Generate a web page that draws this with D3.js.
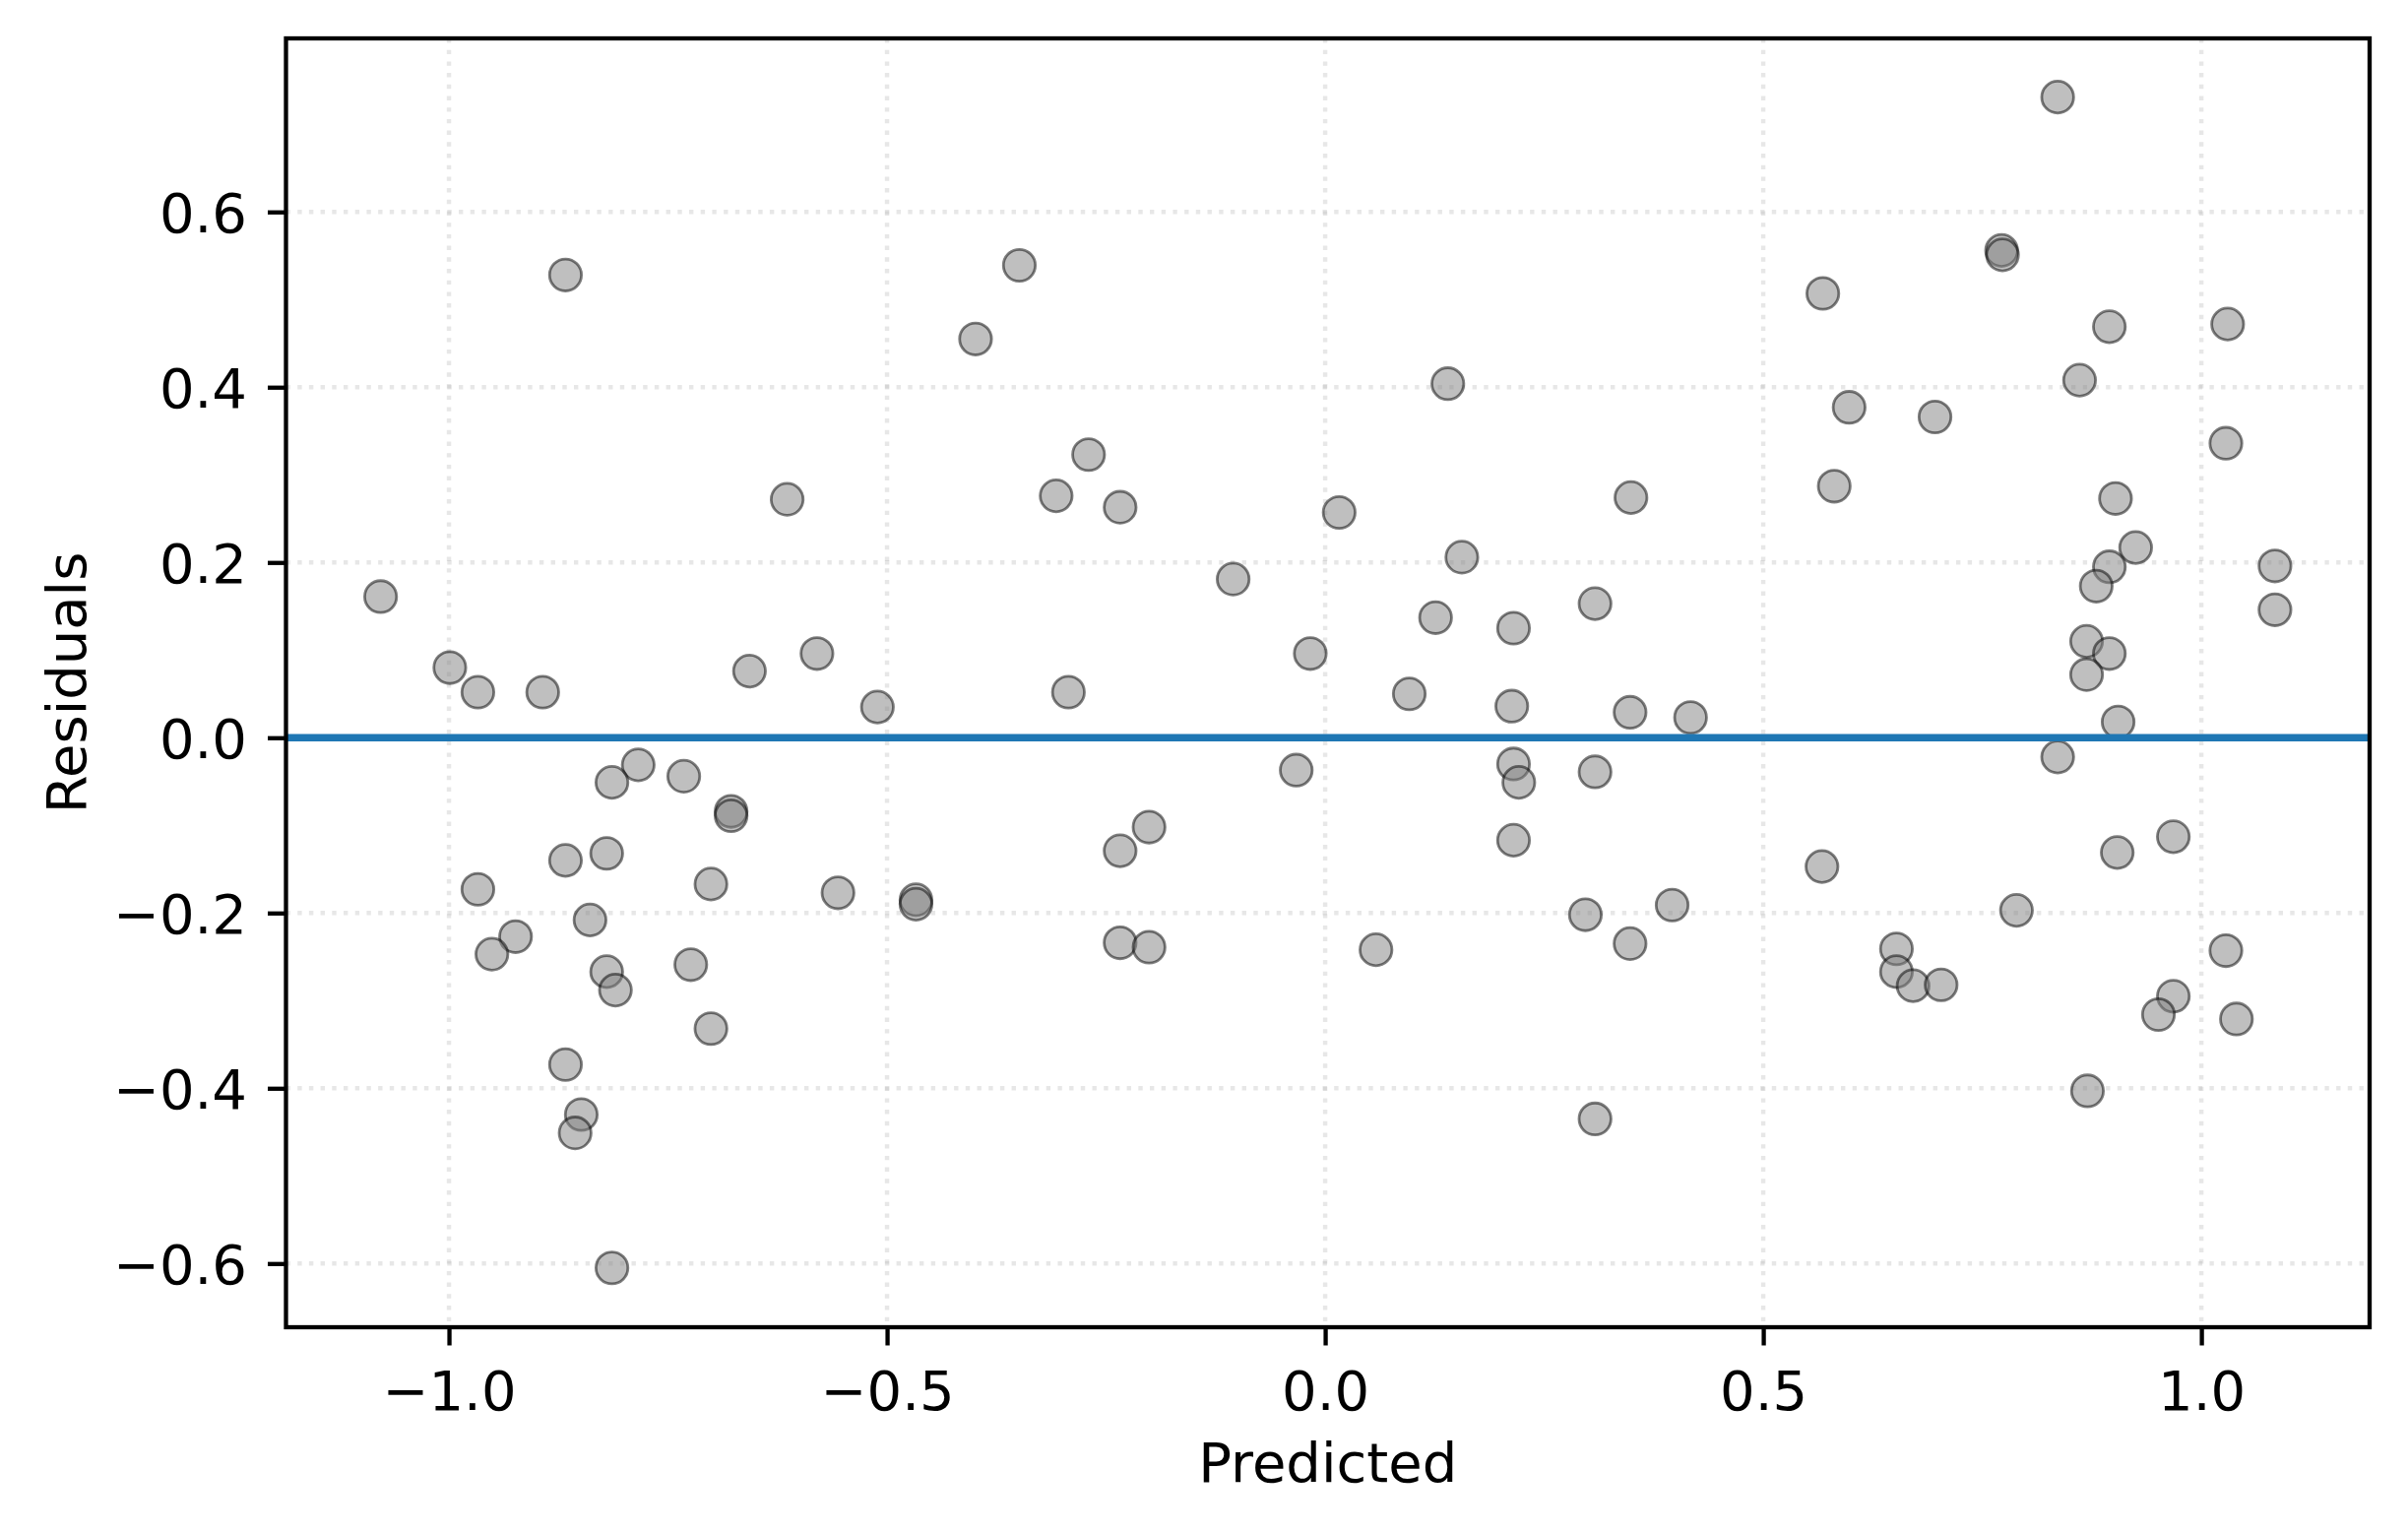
<!DOCTYPE html>
<html>
<head>
<meta charset="utf-8">
<script src="https://cdn.jsdelivr.net/npm/d3@7"></script>
<style>
  html, body { margin: 0; padding: 0; background: #fff; }
  svg { display: block; font-family: "DejaVu Sans", sans-serif; }
</style>
</head>
<body>
<svg id="chart" width="2446" height="1557"></svg>
<script>
// values
const predicted = [
  -1.078, -0.999, -0.967, -0.893, -0.867, -0.657, -0.614, -0.580, -0.349, -0.399,
  -0.270, -0.307, -0.234, 0.016, -0.105, -0.017, -0.293, 0.568, 0.140, 0.598,
  0.581, 0.349, 0.156, 0.126, 0.215, 0.308, 0.096, 0.836, 0.772, 0.773,
  0.895, 1.030, 0.861, 0.696, 1.028, 0.902, 0.925, 0.895, 0.880, 1.084,
  1.084, 0.869, 0.895, 0.869, -0.784, -0.814, -0.732, -0.678, -0.678, -0.867,
  -0.820, -0.967, -0.701, -0.839, -0.924, -0.951, -0.820, -0.810, -0.724, -0.701,
  -0.867, -0.849, -0.856, -0.814, -0.511, -0.033, -0.201, -0.234, -0.556, -0.467,
  -0.467, -0.234, -0.201, 0.213, 0.348, 0.417, 0.215, 0.221, 0.308, 0.215,
  0.567, 0.396, 0.297, 0.348, 0.058, 0.308, 0.905, 0.836, 0.968, 0.904,
  0.789, 0.652, 0.652, 0.671, 0.703, 0.968, 0.951, 1.028, 1.040, 0.870
];
const residuals = [
  0.161, 0.080, 0.052, 0.052, 0.528, 0.076, 0.272, 0.096, 0.539, 0.455,
  0.323, 0.276, 0.263, 0.257, 0.181, 0.096, 0.052, 0.507, 0.404, 0.377,
  0.287, 0.274, 0.206, 0.137, 0.125, 0.153, 0.050, 0.731, 0.556, 0.551,
  0.469, 0.472, 0.408, 0.366, 0.336, 0.273, 0.217, 0.195, 0.173, 0.196,
  0.146, 0.110, 0.096, 0.072, -0.031, -0.051, -0.044, -0.084, -0.089, -0.140,
  -0.132, -0.173, -0.167, -0.208, -0.227, -0.247, -0.267, -0.288, -0.259, -0.332,
  -0.373, -0.430, -0.451, -0.605, 0.035, -0.037, -0.102, -0.129, -0.177, -0.185,
  -0.190, -0.234, -0.239, 0.036, 0.029, 0.023, -0.030, -0.051, -0.039, -0.117,
  -0.147, -0.191, -0.202, -0.235, -0.242, -0.435, 0.018, -0.022, -0.113, -0.131,
  -0.197, -0.241, -0.267, -0.283, -0.282, -0.295, -0.316, -0.243, -0.321, -0.403
];
const xTicks = [-1.0, -0.5, 0.0, 0.5, 1.0];
const yTicks = [-0.6, -0.4, -0.2, 0.0, 0.2, 0.4, 0.6];

const svg = d3.select("#chart");
const plotLeft = 290.5, plotRight = 2407, plotTop = 39, plotBottom = 1348;
const fontSize = 56;

const x = d3.scaleLinear().domain([-1.186, 1.192]).range([plotLeft, plotRight]);
const y = d3.scaleLinear().domain([-0.6727, 0.798]).range([plotBottom, plotTop]);

const points = predicted.map((p, i) => ({ p: p, r: residuals[i] }));

// grid
const grid = svg.append("g")
    .attr("stroke", "#b0b0b0")
    .attr("stroke-opacity", 0.3)
    .attr("stroke-width", 4.4)
    .attr("stroke-dasharray", "4.4 7.3");
grid.selectAll(".gx").data(xTicks).enter().append("line")
    .attr("x1", d => x(d)).attr("x2", d => x(d))
    .attr("y1", plotTop).attr("y2", plotBottom);
grid.selectAll(".gy").data(yTicks).enter().append("line")
    .attr("x1", plotLeft).attr("x2", plotRight)
    .attr("y1", d => y(d)).attr("y2", d => y(d));

// points
svg.append("g").selectAll("circle")
    .data(points)
    .enter().append("circle")
    .attr("cx", d => x(d.p))
    .attr("cy", d => y(d.r))
    .attr("r", 16.2)
    .attr("fill", "#808080")
    .attr("fill-opacity", 0.5)
    .attr("stroke", "#000")
    .attr("stroke-opacity", 0.5)
    .attr("stroke-width", 2.8);

// zero line
svg.append("line")
    .attr("x1", plotLeft).attr("x2", plotRight)
    .attr("y1", y(0)).attr("y2", y(0))
    .attr("stroke", "#1f77b4")
    .attr("stroke-width", 7.5);

// axes
const fmt = d3.format(".1f");
const xAxis = svg.append("g")
    .attr("transform", `translate(0,${plotBottom})`)
    .call(d3.axisBottom(x).tickValues(xTicks).tickFormat(fmt).tickSize(18.5).tickSizeOuter(0));
const yAxis = svg.append("g")
    .attr("transform", `translate(${plotLeft},0)`)
    .call(d3.axisLeft(y).tickValues(yTicks).tickFormat(fmt).tickSize(18.5).tickPadding(21).tickSizeOuter(0));

[xAxis, yAxis].forEach(ax => {
    ax.select(".domain").remove();
    ax.attr("font-family", "DejaVu Sans").attr("font-size", fontSize);
    ax.selectAll(".tick line").attr("stroke", "#000").attr("stroke-width", 4.3);
    ax.selectAll(".tick text").attr("fill", "#000");
});
xAxis.selectAll(".tick text").attr("y", 84).attr("dy", null);
yAxis.selectAll(".tick text").attr("dy", "0.36em");

// frame
svg.append("rect")
    .attr("x", plotLeft).attr("y", plotTop)
    .attr("width", plotRight - plotLeft).attr("height", plotBottom - plotTop)
    .attr("fill", "none")
    .attr("stroke", "#000")
    .attr("stroke-width", 4.3);

// axis labels
svg.append("text")
    .attr("x", (plotLeft + plotRight) / 2)
    .attr("y", 1505)
    .attr("text-anchor", "middle")
    .attr("font-size", fontSize)
    .text("Predicted");

svg.append("text")
    .attr("transform", `translate(87,${(plotTop + plotBottom) / 2}) rotate(-90)`)
    .attr("text-anchor", "middle")
    .attr("font-size", fontSize)
    .text("Residuals");
</script>
</body>
</html>
